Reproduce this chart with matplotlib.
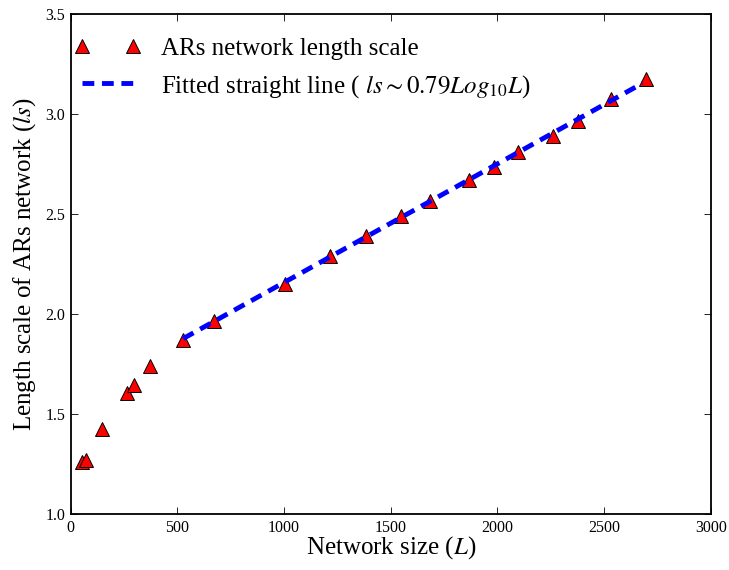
import matplotlib
matplotlib.use("Agg")
import matplotlib.pyplot as plt

# Data
network_size = [51, 72, 148, 262, 296, 370, 524, 671, 1003, 1213, 1385, 1549,
                1685, 1865, 1982, 2098, 2262, 2380, 2532, 2695]
length_scale = [1.26, 1.27, 1.425, 1.605, 1.645, 1.74, 1.87, 1.965, 2.15, 2.29,
                2.39, 2.49, 2.565, 2.67, 2.735, 2.81, 2.89, 2.965, 3.078, 3.175]
fit_size = [527, 2680]
fit_scale = [1.878, 3.155]

x_ticks = [0, 500, 1000, 1500, 2000, 2500, 3000]
y_ticks = [1.0, 1.5, 2.0, 2.5, 3.0, 3.5]

plt.rcParams['font.family'] = ['Liberation Serif', 'DejaVu Serif']
plt.rcParams['mathtext.fontset'] = 'stix'
plt.rcParams['lines.scale_dashes'] = False

fig = plt.figure(figsize=(7.29, 5.70), dpi=100)
ax = fig.add_axes([0.097, 0.098, 0.878, 0.877])

ax.plot(network_size, length_scale, linestyle='none', marker='^', markersize=10,
        markerfacecolor='red', markeredgecolor='black', markeredgewidth=0.7,
        label='ARs network length scale', zorder=3)
ax.plot(fit_size, fit_scale, color='blue', linewidth=3.5, dashes=(8.5, 5.5),
        label=r'Fitted straight line ( $ls \sim 0.79Log_{10}L$)', zorder=4)

ax.set_xlim(0, 3000)
ax.set_ylim(1.0, 3.5)
ax.set_xticks(x_ticks)
ax.set_yticks(y_ticks)
ax.set_yticklabels([f"{v:.1f}" for v in y_ticks])
ax.tick_params(direction='in', top=True, right=True, length=5, width=0.6,
               labelsize=11.5, pad=4)
for s in ax.spines.values():
    s.set_linewidth(1.3)

ax.set_xlabel(r'Network size ($L$)', fontsize=18, labelpad=-1)
ax.set_ylabel(r'Length scale of ARs network ($ls$)', fontsize=18, labelpad=5)

ax.legend(loc='upper left', bbox_to_anchor=(0.006, 0.953), frameon=False,
          numpoints=2, fontsize=18, handlelength=2.65, handletextpad=0.8,
          borderaxespad=0.0, borderpad=0.0)

fig.savefig('out.png', dpi=100)
